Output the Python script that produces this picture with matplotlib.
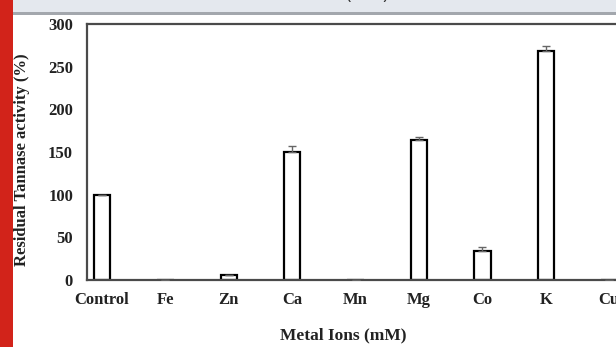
import matplotlib
matplotlib.use("Agg")
import matplotlib.pyplot as plt
from matplotlib.patches import Rectangle

# Residual tannase activity after incubation with metal ions
metals = ["Control", "Fe", "Zn", "Ca", "Mn", "Mg", "Co", "K", "Cu"]
activity = [100, 0, 6, 150, 0, 164, 34, 268, 0]
sd = [0, 0, 0, 7, 0, 4, 5, 6, 0]
yticks = [0, 50, 100, 150, 200, 250, 300]

W, H, DPI = 616, 347, 100
fig = plt.figure(figsize=(W / DPI, H / DPI), dpi=DPI)
fig.patch.set_facecolor("white")

serif = ["Liberation Serif", "DejaVu Serif"]

# page decorations: caption band on top and red margin on the left
fig.add_artist(Rectangle((0, 1 - 12 / H), 1, 12 / H, transform=fig.transFigure,
                         facecolor="#e4e8ee", edgecolor="none", zorder=0))
fig.add_artist(Rectangle((0, 1 - 15 / H), 1, 3 / H, transform=fig.transFigure,
                         facecolor="#a3a7ad", edgecolor="none", zorder=0))
fig.text(27 / W, 1 + 1 / H, "Values are obtained mean values \u00b1SD (n=3).",
         fontsize=13, family=["Open Sans", "DejaVu Sans"], color="#333333",
         ha="left", va="baseline")
fig.add_artist(Rectangle((0, 0), 13 / W, 1, transform=fig.transFigure,
                         facecolor="#d2231a", edgecolor="none", zorder=5))

# axes geometry in pixels (frame continues past the right edge)
x0, x1 = 87, 680
y_top, y_bot = 24, 280
ax = fig.add_axes([x0 / W, (H - y_bot) / H, (x1 - x0) / W, (y_bot - y_top) / H])

step = 63.4
first = 102
ax.set_xlim(-(first - x0) / step, (x1 - first) / step)
ax.set_ylim(0, 300)

xs = list(range(len(metals)))
lower = [0] * len(sd)
ax.bar(xs, activity, width=0.26, facecolor="white", edgecolor="black",
       linewidth=1.6, zorder=2)
ax.errorbar(xs, activity, yerr=[lower, sd], fmt="none", ecolor="#666666",
            elinewidth=1.0, capsize=3, capthick=1.0, zorder=3)

ax.set_yticks(yticks)
ax.set_xticks(xs)
ax.set_xticklabels(metals)
ax.tick_params(axis="both", length=0)
ax.tick_params(axis="y", pad=10)
ax.tick_params(axis="x", pad=9)
for lab in ax.get_xticklabels() + ax.get_yticklabels():
    lab.set_fontfamily(serif)
    lab.set_fontweight("bold")
    lab.set_fontsize(12)
    lab.set_color("#222222")

for side in ["left", "top", "bottom", "right"]:
    ax.spines[side].set_color("#4a4a4a")
    ax.spines[side].set_linewidth(1.6)

ax.set_xlabel("Metal Ions (mM)", fontsize=12.5, fontweight="bold",
              family=serif, color="#222222")
ax.xaxis.set_label_coords((343 - x0) / (x1 - x0), -(335 - y_bot) / (y_bot - y_top))
ax.xaxis.label.set_va("center")

ax.set_ylabel("Residual Tannase activity (%)", fontsize=12, fontweight="bold",
              family=serif, color="#222222")
ax.yaxis.set_label_coords(-(x0 - 22) / (x1 - x0), (y_bot - 160) / (y_bot - y_top))
ax.yaxis.label.set_va("center")

fig.savefig("out.png", dpi=DPI)
